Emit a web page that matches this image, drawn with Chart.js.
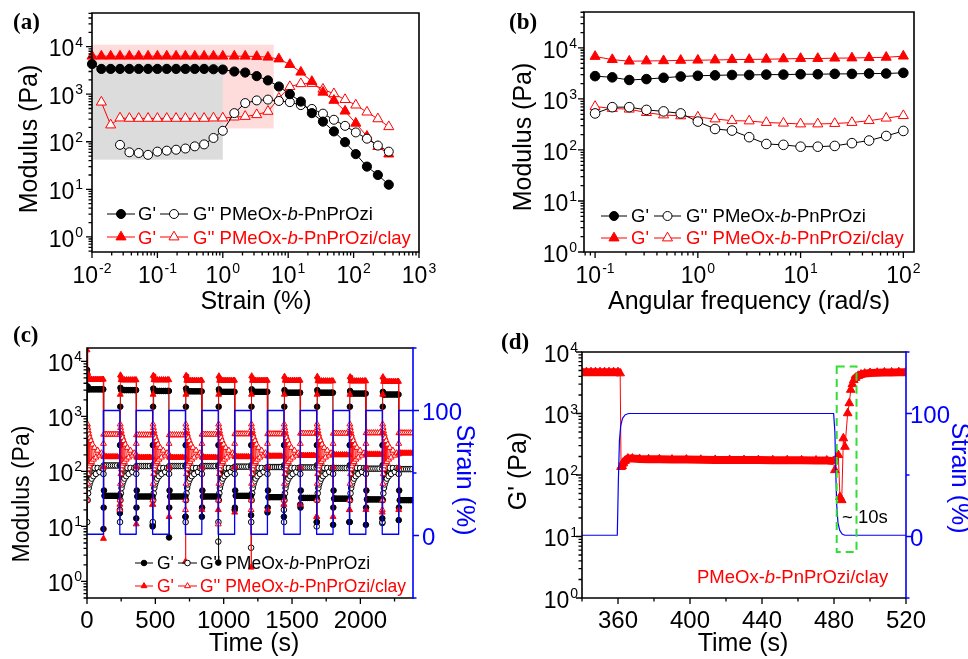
<!DOCTYPE html>
<html>
<head>
<meta charset="utf-8">
<script src="https://cdn.jsdelivr.net/npm/chart.js@4.4.1/dist/chart.umd.min.js"></script>
<style>
  html, body { margin: 0; padding: 0; background: #fff; }
  #fig { position: relative; width: 968px; height: 659px; overflow: hidden; }
  #fig canvas { position: absolute; }
</style>
</head>
<body>
<div id="fig">
  <canvas id="pa" width="484" height="320" style="left:0;top:0"></canvas>
  <canvas id="pb" width="484" height="320" style="left:484px;top:0"></canvas>
  <canvas id="pc" width="484" height="339" style="left:0;top:320px"></canvas>
  <canvas id="pd" width="484" height="339" style="left:484px;top:320px"></canvas>
</div>
<script>
// ---------- (a) strain sweep ----------
const strainA  = [0.01, 0.0139, 0.0193, 0.0268, 0.0373, 0.0518, 0.072, 0.1, 0.139, 0.193, 0.268, 0.373, 0.518, 0.72, 1.0, 1.5, 2.2, 3.3, 4.9, 7.2, 10.6, 15.6, 23, 34, 50, 74, 108, 160, 235, 345];
const gpNeatA  = [4300, 3400, 3400, 3400, 3400, 3400, 3400, 3400, 3400, 3400, 3400, 3400, 3400, 3350, 3300, 3000, 2850, 2400, 1950, 1450, 1000, 700, 400, 265, 165, 98, 55, 30, 20, 12.5];
const gppNeatA = [null, null, null, 86, 60, 58, 53, 62, 65, 68, 72, 80, 88, 120, 170, 400, 650, 740, 770, 720, 680, 590, 490, 390, 290, 216, 157, 116, 83, 62];
const gpClayA  = [6300, 6300, 6300, 6300, 6300, 6300, 6300, 6300, 6300, 6300, 6300, 6300, 6300, 6300, 6300, 6300, 6300, 6200, 6000, 5500, 4200, 2900, 1850, 1100, 740, 440, 245, 130, 79, 55];
const gppClayA = [null, 680, 225, 315, 310, 310, 310, 310, 310, 310, 310, 310, 310, 315, 315, 330, 340, 370, 435, 820, 1440, 1660, 1680, 1270, 1020, 770, 590, 420, 303, 207];
const grayBoxStrain = [0.01, 1],  grayBoxModulus = [42, 4600];
const pinkBoxStrain = [0.01, 6],  pinkBoxModulus = [190, 11000];

// ---------- (b) frequency sweep ----------
const freqB    = [0.1, 0.147, 0.215, 0.316, 0.464, 0.681, 1, 1.47, 2.15, 3.16, 4.64, 6.81, 10, 14.7, 21.5, 31.6, 46.4, 68.1, 100];
const gpNeatB  = [2800, 2650, 2350, 2450, 2600, 2750, 2850, 2900, 2950, 2950, 3000, 3000, 3050, 3050, 3100, 3100, 3150, 3150, 3250];
const gppNeatB = [520, 690, 690, 610, 570, 520, 360, 258, 240, 178, 131, 126, 116, 116, 120, 136, 153, 188, 236];
const gpClayB  = [6800, 5900, 5500, 5550, 5600, 5700, 5750, 5800, 5900, 5950, 6000, 6100, 6200, 6200, 6300, 6350, 6450, 6550, 6900];
const gppClayB = [710, 650, 630, 540, 485, 465, 440, 405, 375, 370, 345, 335, 323, 323, 330, 345, 375, 420, 470];

// ---------- (c) alternating step strain, 10 cycles ----------
const cycleStart  = [0, 240, 480, 720, 960, 1200, 1440, 1680, 1920, 2160];   // s, low strain starts
const strainLevelsC = [1, 100];                                              // %, low / high
const clayGpRise  = [16000, 25, 25, 2.3, 20, 1.8, 25, 15, 20, 18];
const clayGpPeak  = [6000, 5600, 5500, 5500, 5400, 5400, 5300, 5300, 5200, 5200];
const clayGpLow   = [4700, 4600, 4600, 4500, 4500, 4500, 4500, 4400, 4400, 4300];
const clayGpDrop  = [6, 11, 15, 20, 18, 20, 25, 15, 20, 20];
const clayGpHigh  = [185, 180, 180, 180, 185, 190, 195, 200, 205, 215];
const clayGppRise = [700, 20, 25, 20, 11, 20, 25, 15, 20, 20];
const clayGppHigh = [470, 460, 460, 470, 480, 480, 490, 490, 500, 500];
const neatGpRise  = [7000, 17.5, 10, 15, 2.2, 16, 15, 12, 12, 14];
const neatGpPeak  = [3500, 3300, 3200, 3200, 3100, 3100, 3000, 3000, 2900, 2800];
const neatGpLow   = [3100, 3000, 2900, 2850, 2800, 2800, 2700, 2700, 2600, 2500];
const neatGpDrop  = [9, 14, 6.3, 15, 20, 18, 25, 10.7, 10.7, 13];
const neatGpHigh  = [36, 35, 35, 35, 36, 34, 33, 32, 31, 30];
const neatGppRise = [6000, 20, 10.7, 15, 5.3, 4.1, 20, 10, 12, 11.5];
const neatGppHigh = [128, 125, 125, 125, 122, 120, 118, 115, 112, 110];
// shape of one cycle (s after each step, Pa)
const riseOffsets   = [0.5, 2, 3.5, 5];
const clayGpRiseMid = [500, 2500];
const neatGpRiseMid = [300, 1500];
const lowOffsets    = [10, 20, 35, 50, 65, 80, 95, 110, 119];
const dropOffsets   = [0.5, 2, 4, 8];
const clayGpDropMid = [120];
const neatGpDropMid = [22, 45];
const highOffsets   = [12, 25, 40, 55, 70, 85, 100, 119.5];
const sprayOffsets  = [1.5, 3, 4.5, 6, 8, 10, 12.5, 15, 18, 21, 25, 29, 34, 40, 47, 55, 65, 78, 92, 106, 119];
const claySpray     = [30, 720, 60, 620, 90, 540, 110, 470, 125, 410, 140, 360, 150, 310, 165, 270, 180, 240, 195, 215, 205];
const neatSpray     = [12, 130, 30, 127, 40, 124, 50, 122, 58, 120, 66, 118, 74, 117, 82, 116, 90, 115, 98, 115, 112];
const clayGppStep   = [320];
const neatGppStep   = [90];

// ---------- (d) one recovery step, clay gel ----------
const timeD = [340, 342.5, 345, 347.5, 350, 352.5, 355, 357.5, 360, 361.2, 361.7, 362.3, 363, 364, 365.5, 368, 372, 377, 383, 390, 398, 406, 414, 422, 430, 438, 446, 454, 462, 470, 476, 479.6, 480.5, 482.4, 483.3, 484.3, 485.2, 486.1, 487.6, 488.5, 489.3, 490.2, 491, 492, 493.5, 495, 497, 500, 504, 508, 512, 516, 520];
const gpD   = [4700, 4700, 4700, 4700, 4700, 4700, 4700, 4700, 4700, 4500, 135, 140, 155, 170, 185, 185, 182, 180, 180, 178, 178, 177, 176, 176, 175, 175, 174, 174, 173, 172, 172, 168, 120, 211, 44, 39, 395, 288, 1010, 1470, 2430, 3000, 3500, 3800, 4100, 4300, 4450, 4550, 4600, 4650, 4650, 4700, 4700];
const bandRangesD = [[340, 361.2], [362.3, 479.6], [491, 520]];
const strainTimeD = [340, 359.6, 360.2, 360.8, 361.5, 362.5, 364, 366, 479.8, 480.5, 481, 481.5, 482.2, 483.2, 484.5, 486, 520];
const strainD     = [1, 1, 45, 78, 90, 96, 99, 100, 100, 85, 52, 26, 11, 5, 2, 1, 1];
const recoveryBoxTime = [481.5, 492.5], recoveryBoxModulus = [5.6, 5800];

// ---------- helpers ----------
const SANS = "'Liberation Sans', Arial, Helvetica, sans-serif";
const SERIF = "'Liberation Serif', 'Times New Roman', serif";
const RED = '#ff0000', BLUE = '#0000ff', BLACK = '#000000';

const pts = (xs, ys) => xs.map((x, i) => ({ x, y: ys[i] })).filter(p => p.y != null);
const at = (t0, offs, vals) => offs.map((o, i) => ({ x: t0 + o, y: vals[i] })).filter(p => p.y != null);

function band(points, ranges) {
  const out = [];
  ranges.forEach(([lo, hi]) => {
    points.forEach(p => { if (p.x >= lo && p.x <= hi) out.push(p); });
    out.push({ x: hi + 0.01, y: null });
  });
  return out;
}

function series(data, color, style, r, open, extra) {
  return Object.assign({
    data, showLine: true, borderColor: color, borderWidth: 1,
    pointStyle: style, pointRadius: r, pointBorderWidth: 1,
    pointBorderColor: color, pointBackgroundColor: open ? '#fff' : color,
    spanGaps: false, clip: false
  }, extra || {});
}
function thick(data, color, w, extra) {
  return Object.assign({ data, showLine: true, borderColor: color, borderWidth: w,
    pointRadius: 0, spanGaps: false, borderJoinStyle: 'round' }, extra || {});
}

function logTicks(min, max) {
  const major = [], minor = [];
  for (let e = Math.floor(Math.log10(min)); e <= Math.ceil(Math.log10(max)); e++) {
    for (let k = 1; k < 10; k++) {
      const v = k * Math.pow(10, e);
      if (v < min * 0.999 || v > max * 1.001) continue;
      (k === 1 ? major : minor).push(v);
    }
  }
  return { major, minor };
}

function frame(ctx, a, rightColor) {
  ctx.save();
  ctx.lineWidth = 1.6; ctx.strokeStyle = BLACK;
  ctx.beginPath();
  ctx.moveTo(a.right, a.top); ctx.lineTo(a.left, a.top);
  ctx.lineTo(a.left, a.bottom); ctx.lineTo(a.right, a.bottom);
  if (!rightColor) ctx.closePath();
  ctx.stroke();
  if (rightColor) {
    ctx.strokeStyle = rightColor; ctx.beginPath();
    ctx.moveTo(a.right, a.top - 0.8); ctx.lineTo(a.right, a.bottom + 0.8); ctx.stroke();
  }
  ctx.restore();
}
function xTicks(ctx, a, sc, major, minor) {
  ctx.save(); ctx.strokeStyle = BLACK; ctx.lineWidth = 1.3; ctx.beginPath();
  major.forEach(v => { const p = sc.getPixelForValue(v); ctx.moveTo(p, a.bottom); ctx.lineTo(p, a.bottom + 6); });
  minor.forEach(v => { const p = sc.getPixelForValue(v); ctx.moveTo(p, a.bottom); ctx.lineTo(p, a.bottom + 3.5); });
  ctx.stroke(); ctx.restore();
}
function yTicks(ctx, a, sc, major, minor, side, color) {
  const x0 = side === 'left' ? a.left : a.right, s = side === 'left' ? -1 : 1;
  ctx.save(); ctx.strokeStyle = color || BLACK; ctx.lineWidth = 1.3; ctx.beginPath();
  major.forEach(v => { const p = sc.getPixelForValue(v); ctx.moveTo(x0, p); ctx.lineTo(x0 + s * 6, p); });
  minor.forEach(v => { const p = sc.getPixelForValue(v); ctx.moveTo(x0, p); ctx.lineTo(x0 + s * 3.5, p); });
  ctx.stroke(); ctx.restore();
}
function powLabel(ctx, exp, x, y, align, size, color) {
  const sup = Math.round(size * 0.62), es = String(exp);
  ctx.save();
  ctx.textAlign = 'left'; ctx.textBaseline = 'alphabetic'; ctx.fillStyle = color || BLACK;
  ctx.font = `${size}px ${SANS}`; const w1 = ctx.measureText('10').width;
  ctx.font = `${sup}px ${SANS}`; const w2 = ctx.measureText(es).width;
  const tot = w1 + 1 + w2;
  const x0 = align === 'right' ? x - tot : align === 'center' ? x - tot / 2 : x;
  ctx.font = `${size}px ${SANS}`; ctx.fillText('10', x0, y);
  ctx.font = `${sup}px ${SANS}`; ctx.fillText(es, x0 + w1 + 1, y - size * 0.42);
  ctx.restore();
}
function logAxisBottom(ctx, a, sc, dy, size) {
  const t = logTicks(sc.min, sc.max);
  xTicks(ctx, a, sc, t.major, t.minor);
  t.major.forEach(v => powLabel(ctx, Math.round(Math.log10(v)), sc.getPixelForValue(v), a.bottom + dy, 'center', size));
}
function logAxisLeft(ctx, a, sc, gap, size) {
  const t = logTicks(sc.min, sc.max);
  yTicks(ctx, a, sc, t.major, t.minor, 'left');
  t.major.forEach(v => powLabel(ctx, Math.round(Math.log10(v)), a.left - gap, sc.getPixelForValue(v) + size * 0.42, 'right', size));
}
function linLabels(ctx, values, sc, y, size, color, align, xFixed) {
  ctx.save(); ctx.font = `${size}px ${SANS}`; ctx.fillStyle = color || BLACK;
  ctx.textAlign = align || 'center'; ctx.textBaseline = 'alphabetic';
  values.forEach(v => {
    if (xFixed != null) ctx.fillText(String(v), xFixed, sc.getPixelForValue(v) + y);
    else ctx.fillText(String(v), sc.getPixelForValue(v), y);
  });
  ctx.restore();
}
function hTitle(ctx, s, x, y, size, color) {
  ctx.save(); ctx.font = `${size}px ${SANS}`; ctx.fillStyle = color || BLACK;
  ctx.textAlign = 'center'; ctx.textBaseline = 'alphabetic'; ctx.fillText(s, x, y); ctx.restore();
}
function vTitle(ctx, s, x, y, size, dir, color) {
  ctx.save(); ctx.translate(x, y); ctx.rotate(dir * Math.PI / 2);
  ctx.font = `${size}px ${SANS}`; ctx.fillStyle = color || BLACK;
  ctx.textAlign = 'center'; ctx.textBaseline = 'middle'; ctx.fillText(s, 0, 0); ctx.restore();
}
function panelLabel(ctx, s, x, y) {
  ctx.save(); ctx.font = `bold 23px ${SERIF}`; ctx.fillStyle = BLACK;
  ctx.textAlign = 'left'; ctx.textBaseline = 'alphabetic'; ctx.fillText(s, x, y); ctx.restore();
}
function richText(ctx, parts, x, y, size, color) {
  let cx = x;
  ctx.save(); ctx.fillStyle = color; ctx.textAlign = 'left'; ctx.textBaseline = 'alphabetic';
  parts.forEach(([s, it]) => {
    ctx.font = `${it ? 'italic ' : ''}${size}px ${SANS}`;
    ctx.fillText(s, cx, y); cx += ctx.measureText(s).width;
  });
  ctx.restore();
  return cx;
}
function marker(ctx, style, x, y, r, color, open) {
  ctx.save(); ctx.beginPath();
  if (style === 'circle') ctx.arc(x, y, r, 0, Math.PI * 2);
  else {
    for (let i = 0; i < 3; i++) {
      const ang = i * 2 * Math.PI / 3, px = x + Math.sin(ang) * r, py = y - Math.cos(ang) * r;
      if (i) ctx.lineTo(px, py); else ctx.moveTo(px, py);
    }
    ctx.closePath();
  }
  ctx.fillStyle = open ? '#fff' : color; ctx.fill();
  ctx.lineWidth = 1; ctx.strokeStyle = color; ctx.stroke(); ctx.restore();
}
function sample(ctx, x1, x2, y, style, r, color, open) {
  ctx.save(); ctx.strokeStyle = color; ctx.lineWidth = 1;
  ctx.beginPath(); ctx.moveTo(x1, y); ctx.lineTo(x2, y); ctx.stroke(); ctx.restore();
  marker(ctx, style, (x1 + x2) / 2, y, r, color, open);
}
function legendRow(ctx, o) {
  sample(ctx, o.s1[0], o.s1[1], o.y, o.style, o.r, o.color, false);
  richText(ctx, [["G'"]], o.t1, o.base, o.size, o.color);
  sample(ctx, o.s2[0], o.s2[1], o.y, o.style, o.r, o.color, true);
  richText(ctx, [["G'' PMeOx-"], ['b', true], ['-PnPrOzi' + o.suffix]], o.t2, o.base, o.size, o.color);
}
function shade(ctx, sx, sy, xr, yr, color) {
  const x1 = sx.getPixelForValue(xr[0]), x2 = sx.getPixelForValue(xr[1]);
  const y1 = sy.getPixelForValue(yr[1]), y2 = sy.getPixelForValue(yr[0]);
  ctx.save(); ctx.fillStyle = color; ctx.fillRect(x1, y1, x2 - x1, y2 - y1); ctx.restore();
}
function baseOptions(pad, scales) {
  return {
    responsive: false, animation: false, devicePixelRatio: 1, events: [],
    layout: { padding: pad },
    plugins: { legend: { display: false }, tooltip: { enabled: false }, title: { display: false } },
    scales
  };
}

// ---------- panel (a) ----------
new Chart(document.getElementById('pa'), {
  type: 'scatter',
  data: { datasets: [
    series(pts(strainA, gpNeatA), BLACK, 'circle', 4.6, false),
    series(pts(strainA, gppNeatA), BLACK, 'circle', 4.5, true),
    series(pts(strainA, gpClayA), RED, 'triangle', 5.8, false),
    series(pts(strainA, gppClayA), RED, 'triangle', 5.8, true)
  ] },
  options: baseOptions({ left: 92, top: 13, right: 65, bottom: 68 }, {
    x: { type: 'logarithmic', min: 0.01, max: 1000, display: false },
    y: { type: 'logarithmic', min: 0.48, max: 51000, display: false }
  }),
  plugins: [{
    id: 'decorA',
    beforeDatasetsDraw(chart) {
      const { ctx, scales: { x, y } } = chart;
      shade(ctx, x, y, pinkBoxStrain, pinkBoxModulus, '#ffdcdc');
      shade(ctx, x, y, grayBoxStrain, grayBoxModulus, '#dcdcdc');
    },
    afterDraw(chart) {
      const { ctx, chartArea: a, scales: { x, y } } = chart;
      frame(ctx, a);
      logAxisBottom(ctx, a, x, 31, 23);
      logAxisLeft(ctx, a, y, 9, 23);
      hTitle(ctx, 'Strain (%)', 256, 309, 25);
      vTitle(ctx, 'Modulus (Pa)', 30, 139, 25, -1);
      legendRow(ctx, { y: 214, base: 220, s1: [107, 135], t1: 138, s2: [160, 188], t2: 193,
        style: 'circle', r: 4.5, color: BLACK, suffix: '', size: 18.5 });
      legendRow(ctx, { y: 237, base: 244, s1: [107, 135], t1: 138, s2: [160, 188], t2: 193,
        style: 'triangle', r: 5.8, color: RED, suffix: '/clay', size: 18.5 });
      panelLabel(ctx, '(a)', 13, 29);
    }
  }]
});

// ---------- panel (b) ----------
new Chart(document.getElementById('pb'), {
  type: 'scatter',
  data: { datasets: [
    series(pts(freqB, gpNeatB), BLACK, 'circle', 4.8, false),
    series(pts(freqB, gppNeatB), BLACK, 'circle', 4.8, true),
    series(pts(freqB, gpClayB), RED, 'triangle', 5.8, false),
    series(pts(freqB, gppClayB), RED, 'triangle', 5.8, true)
  ] },
  options: baseOptions({ left: 100, top: 12, right: 54, bottom: 68 }, {
    x: { type: 'logarithmic', min: 0.078, max: 127, display: false },
    y: { type: 'logarithmic', min: 1, max: 50600, display: false }
  }),
  plugins: [{
    id: 'decorB',
    afterDraw(chart) {
      const { ctx, chartArea: a, scales: { x, y } } = chart;
      frame(ctx, a);
      logAxisBottom(ctx, a, x, 31, 23);
      logAxisLeft(ctx, a, y, 7, 23);
      hTitle(ctx, 'Angular frequency (rad/s)', 265, 309, 25);
      vTitle(ctx, 'Modulus (Pa)', 40, 137, 25, -1);
      legendRow(ctx, { y: 216, base: 222, s1: [117, 143], t1: 147, s2: [170, 197], t2: 202,
        style: 'circle', r: 4.5, color: BLACK, suffix: '', size: 18.5 });
      legendRow(ctx, { y: 238, base: 244, s1: [117, 143], t1: 147, s2: [170, 197], t2: 202,
        style: 'triangle', r: 5.8, color: RED, suffix: '/clay', size: 18.5 });
      panelLabel(ctx, '(b)', 25, 29);
    }
  }]
});

// ---------- panel (c) ----------
const cClayGp = [], cClayGpp = [], cNeatGp = [], cNeatGpp = [], cStrain = [];
const rClayGp = [], rNeatGp = [], rHigh = [];
cycleStart.forEach((t0, k) => {
  const tH = t0 + 120;
  const set = clayGpRise[k] > clayGpPeak[k];        // run starts with the gel already formed
  cClayGp.push(...at(t0, riseOffsets, set ? [clayGpRise[k], null, null, clayGpPeak[k]] : [clayGpRise[k], ...clayGpRiseMid, clayGpPeak[k]]));
  cClayGp.push(...at(t0, lowOffsets, lowOffsets.map(() => clayGpLow[k])));
  cClayGp.push(...at(tH, dropOffsets, [clayGpDrop[k], ...clayGpDropMid, clayGpHigh[k], clayGpHigh[k]]));
  cClayGp.push(...at(tH, highOffsets, highOffsets.map(() => clayGpHigh[k])));

  cNeatGp.push(...at(t0, riseOffsets, set ? [neatGpRise[k], null, null, neatGpPeak[k]] : [neatGpRise[k], ...neatGpRiseMid, neatGpPeak[k]]));
  cNeatGp.push(...at(t0, lowOffsets, lowOffsets.map(() => neatGpLow[k])));
  cNeatGp.push(...at(tH, dropOffsets, [neatGpDrop[k], ...neatGpDropMid, neatGpHigh[k]]));
  cNeatGp.push(...at(tH, highOffsets, highOffsets.map(() => neatGpHigh[k])));

  cClayGpp.push({ x: t0 + 0.5, y: clayGppRise[k] }, ...at(t0, sprayOffsets, claySpray));
  cClayGpp.push(...at(tH, [0.5, 2], [clayGppStep[0], clayGppHigh[k]]));
  cClayGpp.push(...at(tH, highOffsets, highOffsets.map(() => clayGppHigh[k])));

  cNeatGpp.push({ x: t0 + 0.5, y: neatGppRise[k] }, ...at(t0, sprayOffsets, neatSpray));
  cNeatGpp.push(...at(tH, [0.5, 2], [neatGppStep[0], neatGppHigh[k]]));
  cNeatGpp.push(...at(tH, highOffsets, highOffsets.map(() => neatGppHigh[k])));

  cStrain.push({ x: t0, y: strainLevelsC[0] }, { x: tH, y: strainLevelsC[0] },
               { x: tH, y: strainLevelsC[1] }, { x: t0 + 240, y: strainLevelsC[1] });
  rClayGp.push([t0 + 5, t0 + 119], [tH + 4, tH + 119.5]);
  rNeatGp.push([t0 + 5, t0 + 119], [tH + 8, tH + 119.5]);
  rHigh.push([tH + 2, tH + 119.5]);
});

new Chart(document.getElementById('pc'), {
  type: 'scatter',
  data: { datasets: [
    Object.assign(thick(cStrain, BLUE, 1.3), { yAxisID: 'y2' }),
    series(cClayGp, RED, 'triangle', 3.4, false, { borderWidth: 0.8, clip: 0 }),
    thick(band(cClayGp, rClayGp), RED, 5),
    series(cClayGpp, RED, 'triangle', 3.4, true, { borderWidth: 0.6, clip: 0 }),
    thick(band(cClayGpp, rHigh), 'rgba(255,0,0,0.45)', 5),
    series(cNeatGp, BLACK, 'circle', 2.8, false, { borderWidth: 0.8, clip: 0 }),
    thick(band(cNeatGp, rNeatGp), BLACK, 5),
    series(cNeatGpp, BLACK, 'circle', 2.8, true, { borderWidth: 0.6, clip: 0 }),
    thick(band(cNeatGpp, rHigh), 'rgba(0,0,0,0.5)', 5)
  ] },
  options: baseOptions({ left: 87, top: 28, right: 71, bottom: 61 }, {
    x: { type: 'linear', min: 0, max: 2385, display: false },
    y: { type: 'logarithmic', min: 0.5, max: 17500, display: false },
    y2: { type: 'linear', min: -50, max: 150, display: false, position: 'right' }
  }),
  plugins: [{
    id: 'decorC',
    afterDraw(chart) {
      const { ctx, chartArea: a, scales: { x, y, y2 } } = chart;
      frame(ctx, a, BLUE);
      xTicks(ctx, a, x, [0, 500, 1000, 1500, 2000], [250, 750, 1250, 1750, 2250]);
      linLabels(ctx, [0, 500, 1000, 1500, 2000], x, a.bottom + 30, 24);
      logAxisLeft(ctx, a, y, 5, 23);
      yTicks(ctx, a, y2, [0, 100], [-50, 50, 150], 'right', BLUE);
      linLabels(ctx, [0, 100], y2, 9, 24, BLUE, 'left', a.right + 9);
      hTitle(ctx, 'Time (s)', 254, 331, 25);
      vTitle(ctx, 'Modulus (Pa)', 23, 174, 23, -1);
      vTitle(ctx, 'Strain (%)', 464, 160, 25, 1, BLUE);
      legendRow(ctx, { y: 243, base: 249, s1: [135, 153], t1: 157, s2: [178, 197], t2: 200,
        style: 'circle', r: 2.8, color: BLACK, suffix: '', size: 17.5 });
      legendRow(ctx, { y: 266, base: 272, s1: [135, 153], t1: 157, s2: [178, 197], t2: 200,
        style: 'triangle', r: 3.4, color: RED, suffix: '/clay', size: 17.5 });
      panelLabel(ctx, '(c)', 13, 22);
    }
  }]
});

// ---------- panel (d) ----------
const dPts = pts(timeD, gpD);
new Chart(document.getElementById('pd'), {
  type: 'scatter',
  data: { datasets: [
    Object.assign(thick(pts(strainTimeD, strainD), BLUE, 1.2), { yAxisID: 'y2' }),
    series(dPts, RED, 'triangle', 5, false, { borderWidth: 1, clip: 0 }),
    thick(band(dPts, bandRangesD), RED, 8, { clip: 0 })
  ] },
  options: baseOptions({ left: 98, top: 32, right: 62, bottom: 61 }, {
    x: { type: 'linear', min: 340, max: 520, display: false },
    y: { type: 'logarithmic', min: 1, max: 10000, display: false },
    y2: { type: 'linear', min: -50, max: 150, display: false, position: 'right' }
  }),
  plugins: [{
    id: 'decorD',
    afterDatasetsDraw(chart) {
      const { ctx, scales: { x, y } } = chart;
      const x1 = x.getPixelForValue(recoveryBoxTime[0]), x2 = x.getPixelForValue(recoveryBoxTime[1]);
      const y1 = y.getPixelForValue(recoveryBoxModulus[1]), y2 = y.getPixelForValue(recoveryBoxModulus[0]);
      ctx.save(); ctx.strokeStyle = '#33dd33'; ctx.lineWidth = 2; ctx.setLineDash([8, 5]);
      ctx.strokeRect(x1, y1, x2 - x1, y2 - y1); ctx.restore();
    },
    afterDraw(chart) {
      const { ctx, chartArea: a, scales: { x, y, y2 } } = chart;
      frame(ctx, a, BLUE);
      xTicks(ctx, a, x, [360, 400, 440, 480, 520], [340, 380, 420, 460, 500]);
      linLabels(ctx, [360, 400, 440, 480, 520], x, a.bottom + 30, 24);
      logAxisLeft(ctx, a, y, 4, 23);
      yTicks(ctx, a, y2, [0, 100], [-50, 50, 150], 'right', BLUE);
      linLabels(ctx, [0, 100], y2, 9, 24, BLUE, 'left', a.right + 4);
      hTitle(ctx, 'Time (s)', 259, 331, 25);
      vTitle(ctx, "G' (Pa)", 35, 151, 25, -1);
      vTitle(ctx, 'Strain (%)', 475, 158, 25, 1, BLUE);
      richText(ctx, [['~ 10s']], 358, 203, 18.5, BLACK);
      richText(ctx, [['PMeOx-'], ['b', true], ['-PnPrOzi/clay']], 213, 263, 18.5, RED);
      panelLabel(ctx, '(d)', 17, 29);
    }
  }]
});
</script>
</body>
</html>
